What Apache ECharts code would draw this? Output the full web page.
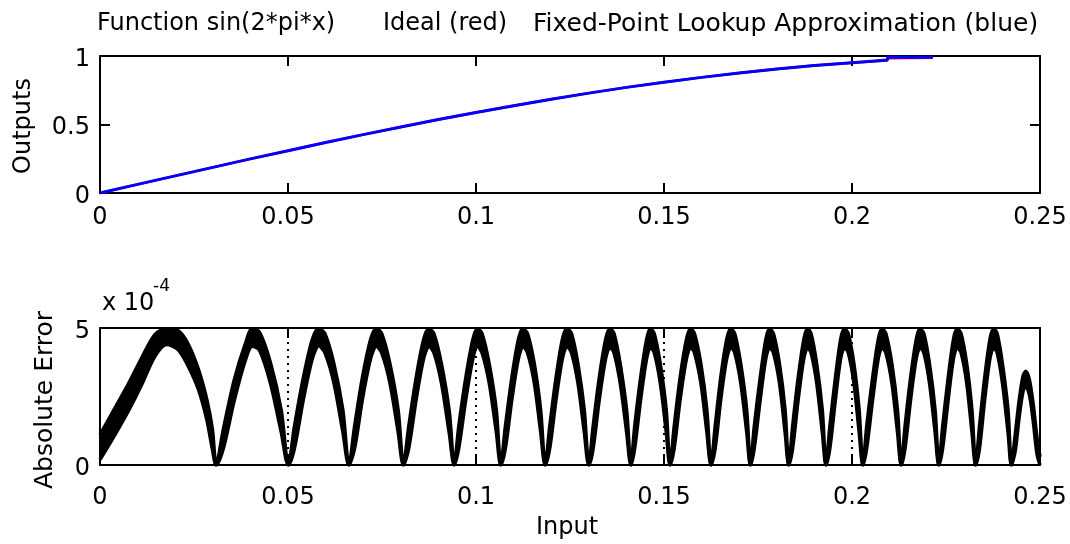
<!DOCTYPE html>
<html><head><meta charset="utf-8">
<script src="https://cdn.jsdelivr.net/npm/echarts@6.0.0/dist/echarts.min.js"></script>
<style>html,body{margin:0;padding:0;background:#fff}#c{width:1070px;height:544px}</style>
</head><body><div id="c"></div>
<script>
// ---------- text ----------
const titleParts = ['Function sin(2*pi*x)', 'Ideal (red)', 'Fixed-Point Lookup Approximation (blue)'];
const topYName = 'Outputs';
const botYName = 'Absolute Error';
const botXName = 'Input';
const expBase = 'x 10';
const expPow = '-4';
const xTickLabels = ['0', '0.05', '0.1', '0.15', '0.2', '0.25'];
const outTickLabels = ['0', '0.5', '1'];
const errTickLabels = ['0', '5'];

// ---------- top panel: outputs ----------
const topX    = [0, 0.01, 0.02, 0.03, 0.04, 0.05, 0.06, 0.07, 0.08, 0.09, 0.10, 0.11, 0.12, 0.13, 0.14, 0.15, 0.16, 0.17, 0.18, 0.19, 0.20, 0.2094, 0.2095, 0.2215];
const idealY  = [0, 0.063, 0.125, 0.187, 0.249, 0.309, 0.368, 0.426, 0.482, 0.536, 0.588, 0.637, 0.685, 0.729, 0.771, 0.809, 0.844, 0.876, 0.905, 0.930, 0.951, 0.968, 0.984, 0.988];
const approxY = [0, 0.063, 0.125, 0.187, 0.249, 0.309, 0.368, 0.426, 0.482, 0.536, 0.588, 0.637, 0.685, 0.729, 0.771, 0.809, 0.844, 0.876, 0.905, 0.930, 0.951, 0.970, 0.990, 0.990];

// ---------- bottom panel: absolute error (units of 1e-4), outer and inner edge of the band ----------
const errX = [
  0, 0.0040, 0.0075, 0.0111, 0.0146, 0.0177, 0.0208, 0.0235, 0.0262, 0.0284, 0.0299,
  0.0309, 0.0328, 0.0357, 0.0386, 0.0405, 0.0424, 0.0453, 0.0482,
  0.0501, 0.0517, 0.0541, 0.0565, 0.0582, 0.0598, 0.0622, 0.0646,
  0.0662, 0.0677, 0.0698, 0.0720, 0.0735, 0.0749, 0.0771, 0.0793,
  0.0807, 0.0821, 0.0841, 0.0861, 0.0875, 0.0888, 0.0908, 0.0929,
  0.0942, 0.0954, 0.0973, 0.0992, 0.1004, 0.1016, 0.1035, 0.1054,
  0.1066, 0.1078, 0.1096, 0.1113, 0.1125, 0.1137, 0.1155, 0.1172,
  0.1184, 0.1196, 0.1213, 0.1230, 0.1242, 0.1254, 0.1271, 0.1288,
  0.1300, 0.1311, 0.1328, 0.1345, 0.1356, 0.1367, 0.1384, 0.1401,
  0.1412, 0.1422, 0.1438, 0.1454, 0.1464, 0.1474, 0.1490, 0.1506,
  0.1516, 0.1527, 0.1543, 0.1560, 0.1571, 0.1581, 0.1598, 0.1614,
  0.1625, 0.1636, 0.1651, 0.1667, 0.1678, 0.1688, 0.1704, 0.1720,
  0.1730, 0.1740, 0.1756, 0.1771, 0.1781, 0.1791, 0.1807, 0.1822,
  0.1832, 0.1842, 0.1857, 0.1872, 0.1882, 0.1891, 0.1906, 0.1921,
  0.1931, 0.1941, 0.1956, 0.1970, 0.1980, 0.1990, 0.2005, 0.2019,
  0.2029, 0.2039, 0.2055, 0.2070, 0.2080, 0.2090, 0.2106, 0.2121,
  0.2131, 0.2141, 0.2156, 0.2171, 0.2181, 0.2191, 0.2206, 0.2221,
  0.2231, 0.2241, 0.2256, 0.2270, 0.2280, 0.2290, 0.2305, 0.2319,
  0.2329, 0.2339, 0.2353, 0.2367, 0.2377, 0.2386, 0.2400, 0.2415,
  0.2424, 0.2434, 0.2445, 0.2455, 0.2462, 0.2472, 0.2482, 0.2492, 0.2500
];
const errHi = [
  1.10, 2.09, 2.94, 3.91, 4.76, 4.97, 4.90, 4.40, 3.48, 2.39, 1.30,
  0, 1.30, 3.10, 4.40, 4.97, 4.85, 3.75, 2.00,
  0, 1.40, 3.20, 4.60, 4.97, 4.80, 3.70, 2.00,
  0, 1.40, 3.20, 4.60, 4.97, 4.80, 3.70, 2.00,
  0, 1.40, 3.20, 4.60, 4.97, 4.80, 3.70, 1.95,
  0, 1.40, 3.20, 4.60, 4.97, 4.80, 3.70, 2.00,
  0, 1.40, 3.25, 4.60, 4.97, 4.80, 3.70, 2.00,
  0, 1.40, 3.20, 4.60, 4.97, 4.80, 3.70, 2.00,
  0, 1.35, 3.20, 4.60, 4.97, 4.80, 3.65, 1.95,
  0, 1.40, 3.20, 4.60, 4.97, 4.80, 3.70, 2.00,
  0, 1.40, 3.20, 4.60, 4.97, 4.80, 3.70, 2.00,
  0, 1.40, 3.20, 4.60, 4.97, 4.80, 3.70, 2.00,
  0, 1.40, 3.20, 4.60, 4.97, 4.80, 3.70, 2.00,
  0, 1.40, 3.20, 4.60, 4.97, 4.80, 3.70, 2.00,
  0, 1.40, 3.20, 4.60, 4.97, 4.80, 3.70, 2.00,
  0, 1.40, 3.20, 4.60, 4.97, 4.80, 3.70, 2.00,
  0, 1.40, 3.20, 4.60, 4.97, 4.80, 3.70, 2.00,
  0, 1.40, 3.20, 4.60, 4.97, 4.80, 3.70, 2.00,
  0, 1.40, 3.20, 4.60, 4.97, 4.80, 3.70, 2.00,
  0, 1.10, 2.40, 3.25, 3.42, 3.10, 2.20, 1.00, 0.30
];
const errLo = [
  0.20, 1.11, 1.96, 2.94, 3.97, 4.40, 4.21, 3.60, 2.75, 1.66, 0.57,
  0, 0.60, 2.35, 3.80, 4.33, 4.20, 3.00, 1.20,
  0, 0.60, 2.40, 3.90, 4.35, 4.10, 3.00, 1.20,
  0, 0.60, 2.40, 3.90, 4.33, 4.10, 3.00, 1.20,
  0, 0.60, 2.40, 3.90, 4.33, 4.10, 3.00, 1.15,
  0, 0.60, 2.40, 3.90, 4.33, 4.10, 3.00, 1.20,
  0, 0.60, 2.45, 3.90, 4.33, 4.10, 3.00, 1.20,
  0, 0.60, 2.40, 3.90, 4.33, 4.10, 3.00, 1.20,
  0, 0.55, 2.40, 3.90, 4.30, 4.10, 2.95, 1.15,
  0, 0.60, 2.40, 3.90, 4.30, 4.10, 3.00, 1.20,
  0, 0.60, 2.40, 3.90, 4.30, 4.10, 3.00, 1.20,
  0, 0.60, 2.40, 3.90, 4.30, 4.10, 3.00, 1.20,
  0, 0.60, 2.40, 3.90, 4.28, 4.10, 3.00, 1.20,
  0, 0.60, 2.40, 3.90, 4.28, 4.10, 3.00, 1.20,
  0, 0.60, 2.40, 3.90, 4.28, 4.10, 3.00, 1.20,
  0, 0.60, 2.40, 3.90, 4.28, 4.10, 3.00, 1.20,
  0, 0.60, 2.40, 3.90, 4.28, 4.10, 3.00, 1.20,
  0, 0.60, 2.40, 3.90, 4.28, 4.10, 3.00, 1.20,
  0, 0.60, 2.40, 3.90, 4.28, 4.10, 3.00, 1.20,
  0, 0.50, 1.80, 2.70, 2.88, 2.55, 1.60, 0.40, 0
];

// ---------- build ----------
const FONT = '"DejaVu Sans"';
const pairs = (xs, ys) => xs.map((x, i) => [x, ys[i]]);
const chart = echarts.init(document.getElementById('c'), null, { renderer: 'canvas' });

const frameLine = { show: true, onZero: false, lineStyle: { color: '#000', width: 2 } };
const inTick = { show: true, inside: true, length: 10, lineStyle: { color: '#000', width: 2 } };
const xLbl = (arr, margin) => ({ show: true, margin: margin, color: '#000', fontFamily: FONT, fontSize: 24,
  formatter: (v, i) => arr[i] });
const yLbl = (arr) => ({ show: true, margin: 10, color: '#000', fontFamily: FONT, fontSize: 24,
  formatter: (v, i) => '{a|' + arr[i] + '}',
  rich: { a: { fontFamily: FONT, fontSize: 24, color: '#000', padding: [7, 0, 0, 0] } } });
const noLbl = { show: false };

const option = {
  animation: false,
  backgroundColor: '#fff',
  grid: [
    { left: 100, right: 30, top: 56, height: 137 },
    { left: 100, right: 30, top: 328, height: 137 }
  ],
  xAxis: [
    { gridIndex: 0, type: 'value', min: 0, max: 0.25, interval: 0.05, position: 'bottom',
      axisLine: frameLine, axisTick: inTick, axisLabel: xLbl(xTickLabels, 13), splitLine: { show: false } },
    { gridIndex: 0, type: 'value', min: 0, max: 0.25, interval: 0.05, position: 'top',
      axisLine: frameLine, axisTick: inTick, axisLabel: noLbl, splitLine: { show: false } },
    { gridIndex: 1, type: 'value', min: 0, max: 0.25, interval: 0.05, position: 'bottom', z: 5,
      axisLine: frameLine, axisTick: inTick, axisLabel: xLbl(xTickLabels, 21),
      splitLine: { show: true, lineStyle: { color: '#000', width: 2, type: [2, 5] } } },
    { gridIndex: 1, type: 'value', min: 0, max: 0.25, interval: 0.05, position: 'top', z: 5,
      axisLine: frameLine, axisTick: inTick, axisLabel: noLbl, splitLine: { show: false } }
  ],
  yAxis: [
    { gridIndex: 0, type: 'value', min: 0, max: 1, interval: 0.5, position: 'left',
      axisLine: frameLine, axisTick: inTick, axisLabel: yLbl(outTickLabels), splitLine: { show: false } },
    { gridIndex: 0, type: 'value', min: 0, max: 1, interval: 0.5, position: 'right',
      axisLine: frameLine, axisTick: inTick, axisLabel: noLbl, splitLine: { show: false } },
    { gridIndex: 1, type: 'value', min: 0, max: 5, interval: 5, position: 'left', z: 5,
      axisLine: frameLine, axisTick: inTick, axisLabel: yLbl(errTickLabels), splitLine: { show: false } },
    { gridIndex: 1, type: 'value', min: 0, max: 5, interval: 5, position: 'right', z: 5,
      axisLine: frameLine, axisTick: inTick, axisLabel: noLbl, splitLine: { show: false } }
  ],
  series: [
    { type: 'line', xAxisIndex: 0, yAxisIndex: 0, data: pairs(topX, idealY), showSymbol: false,
      lineStyle: { color: '#ff0000', width: 2.5 }, itemStyle: { color: '#ff0000' } },
    { type: 'line', xAxisIndex: 0, yAxisIndex: 0, data: pairs(topX, approxY), showSymbol: false,
      lineStyle: { color: '#0000ff', width: 3 }, itemStyle: { color: '#0000ff' } },
    { type: 'line', xAxisIndex: 2, yAxisIndex: 2, data: pairs(errX, errHi), showSymbol: false, smooth: 0.3,
      lineStyle: { color: '#000', width: 3.5 }, itemStyle: { color: '#000' },
      areaStyle: { color: '#000', opacity: 1 } },
    { type: 'line', xAxisIndex: 2, yAxisIndex: 2, data: pairs(errX, errLo), showSymbol: false, smooth: 0.3,
      lineStyle: { color: '#000', width: 3.5 }, itemStyle: { color: '#000' },
      areaStyle: { color: '#fff', opacity: 1 } }
  ],
  graphic: [
    { type: 'text', x: 97, y: 24, style: { text: titleParts[0], font: '24px ' + FONT, fill: '#000', align: 'left', verticalAlign: 'middle' } },
    { type: 'text', x: 383, y: 24, style: { text: titleParts[1], font: '24px ' + FONT, fill: '#000', align: 'left', verticalAlign: 'middle' } },
    { type: 'text', x: 533, y: 24, style: { text: titleParts[2], font: '25px ' + FONT, fill: '#000', align: 'left', verticalAlign: 'middle' } },
    { type: 'text', x: 24, y: 126, rotation: Math.PI / 2, style: { text: topYName, font: '24px ' + FONT, fill: '#000', align: 'center', verticalAlign: 'middle' } },
    { type: 'text', x: 45, y: 400, rotation: Math.PI / 2, style: { text: botYName, font: '25px ' + FONT, fill: '#000', align: 'center', verticalAlign: 'middle' } },
    { type: 'text', x: 567, y: 528, style: { text: botXName, font: '24px ' + FONT, fill: '#000', align: 'center', verticalAlign: 'middle' } },
    { type: 'text', x: 102, y: 304, style: { text: expBase, font: '24px ' + FONT, fill: '#000', align: 'left', verticalAlign: 'middle' } },
    { type: 'text', x: 153, y: 287, style: { text: expPow, font: '17px ' + FONT, fill: '#000', align: 'left', verticalAlign: 'middle' } }
  ]
};
chart.setOption(option);
</script>
</body></html>
